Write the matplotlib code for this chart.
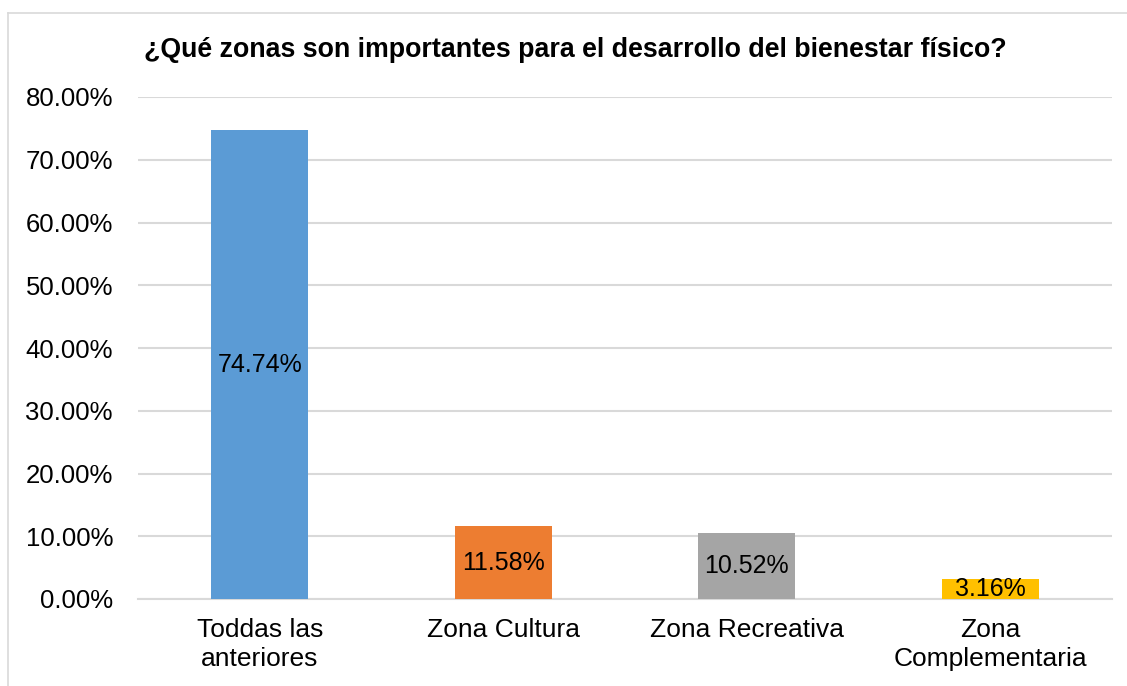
import matplotlib
matplotlib.use("Agg")
import matplotlib.pyplot as plt
from matplotlib.lines import Line2D
from matplotlib.ticker import FuncFormatter

plt.rcParams['font.family'] = ['Liberation Sans', 'DejaVu Sans']

categories = ["Toddas las\nanteriores", "Zona Cultura", "Zona Recreativa", "Zona\nComplementaria"]
values = [74.74, 11.58, 10.52, 3.16]
labels = ["74.74%", "11.58%", "10.52%", "3.16%"]
colors = ["#5B9BD5", "#ED7D31", "#A5A5A5", "#FFC000"]
title = "¿Qué zonas son importantes para el desarrollo del bienestar físico?"

W, H = 1127, 686
fig = plt.figure(figsize=(W / 100, H / 100), dpi=100)
ax = fig.add_axes([138 / W, 1 - 599 / H, (1112 - 138) / W, (599 - 97) / H])

x = list(range(len(categories)))
bars = ax.bar(x, values, width=0.40, color=colors, zorder=3)
for b, lab in zip(bars, labels):
    ax.text(b.get_x() + b.get_width() / 2, b.get_height() / 2, lab,
            ha='center', va='center', fontsize=18, color='#000000', zorder=4)

ax.set_xlim(-0.5, 3.5)
ax.set_ylim(0, 80)
ax.set_yticks(range(0, 81, 10))
ax.yaxis.set_major_formatter(FuncFormatter(lambda v, p: f"{v:.2f}%"))
ax.set_xticks(x)
ax.set_xticklabels(categories, fontsize=19, linespacing=1.22)
ax.tick_params(axis='y', labelsize=18.5, length=0, pad=18)
ax.tick_params(axis='x', length=0, pad=14)
ax.grid(axis='y', color='#D9D9D9', linewidth=1.5, zorder=0)
for s in ['top', 'right', 'left']:
    ax.spines[s].set_visible(False)
ax.spines['bottom'].set_color('#D9D9D9')
ax.spines['bottom'].set_linewidth(1.5)
ax.spines['bottom'].set_zorder(2)

fig.text(575 / W, 1 - 50 / H, title, ha='center', va='center',
         fontsize=19.3, fontweight='bold', color='#000000')

# chart border (top and left visible)
fig.add_artist(Line2D([8 / W, 1.0], [1 - 13 / H, 1 - 13 / H], color='#D9D9D9', linewidth=1.2))
fig.add_artist(Line2D([8 / W, 8 / W], [0.0, 1 - 13 / H], color='#D9D9D9', linewidth=1.2))

fig.savefig("out.png", dpi=100)
